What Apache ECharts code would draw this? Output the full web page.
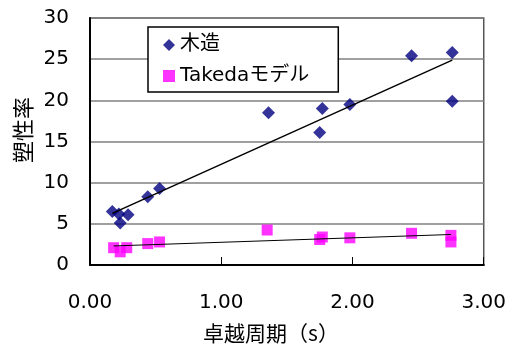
<!DOCTYPE html>
<html>
<head>
<meta charset="utf-8">
<script src="https://cdn.jsdelivr.net/npm/echarts@6/dist/echarts.min.js"></script>
<style>
  html, body { margin: 0; padding: 0; background: #fff; }
  #chart { width: 509px; height: 344px; }
</style>
</head>
<body>
<div id="chart"></div>
<script>
// 木造: natural period (s) vs ductility ratio
const woodPeriod = [0.17, 0.22, 0.23, 0.29, 0.44, 0.53, 1.36, 1.75, 1.77, 1.98, 2.45, 2.76, 2.76];
const woodRatio  = [6.5, 6.2, 5.1, 6.1, 8.3, 9.3, 18.5, 16.1, 19.0, 19.5, 25.4, 25.8, 19.9];

// Takedaモデル: natural period (s) vs ductility ratio
const takedaPeriod = [0.18, 0.23, 0.28, 0.44, 0.53, 1.35, 1.75, 1.77, 1.98, 2.45, 2.75, 2.75];
const takedaRatio  = [2.1, 1.6, 2.1, 2.6, 2.8, 4.25, 3.1, 3.4, 3.3, 3.85, 3.6, 2.8];

const seriesNames = ['木造', 'Takedaモデル'];
const xTicks = [0, 1, 2, 3];
const yMin = 0, yMax = 30, yStep = 5;

const FONT = '"DejaVu Sans", "Noto Sans CJK JP", sans-serif';
const CJK = '"Noto Sans CJK JP", sans-serif';

// least-squares linear trend over the span of the data
function trend(xs, ys) {
  const n = xs.length;
  const mx = xs.reduce((a, b) => a + b, 0) / n;
  const my = ys.reduce((a, b) => a + b, 0) / n;
  let sxy = 0, sxx = 0;
  for (let i = 0; i < n; i++) {
    sxy += (xs[i] - mx) * (ys[i] - my);
    sxx += (xs[i] - mx) * (xs[i] - mx);
  }
  const k = sxy / sxx, b = my - k * mx;
  const x0 = Math.min(...xs), x1 = Math.max(...xs);
  return [[x0, k * x0 + b], [x1, k * x1 + b]];
}

const pairs = (xs, ys) => xs.map((x, i) => [x, ys[i]]);

const chart = echarts.init(document.getElementById('chart'), null, { renderer: 'canvas' });
chart.setOption({
  animation: false,
  backgroundColor: '#fff',
  grid: {
    left: 90, right: 24, top: 18, bottom: 79,
    show: true, borderColor: '#555', borderWidth: 1.5, backgroundColor: 'transparent'
  },
  legend: {
    data: [
      { name: seriesNames[0], icon: 'diamond' },
      { name: seriesNames[1], icon: 'rect' }
    ],
    orient: 'vertical',
    left: 148, top: 27,
    itemWidth: 12, itemHeight: 12,
    itemGap: 11,
    padding: [8, 29, 6, 15],
    borderColor: '#000', borderWidth: 1.5,
    backgroundColor: '#fff',
    textStyle: { fontFamily: FONT, fontSize: 20, color: '#000' }
  },
  xAxis: {
    type: 'value',
    min: xTicks[0], max: xTicks[xTicks.length - 1], interval: 1,
    axisLine: { show: true, onZero: false, lineStyle: { color: '#000', width: 2 } },
    axisTick: { show: true, inside: true, length: 8, lineStyle: { color: '#000', width: 1 } },
    splitLine: { show: false },
    axisLabel: {
      margin: 28, fontFamily: FONT, fontSize: 20, color: '#000',
      formatter: v => v.toFixed(2)
    }
  },
  yAxis: {
    type: 'value',
    min: yMin, max: yMax, interval: yStep,
    axisLine: { show: true, lineStyle: { color: '#000', width: 2 } },
    axisTick: { show: false },
    splitLine: { show: true, lineStyle: { color: '#808080', width: 1.5 } },
    axisLabel: { margin: 21, fontFamily: FONT, fontSize: 20, color: '#000' }
  },
  graphic: [
    {
      type: 'text', x: 23, y: 130, rotation: Math.PI / 2,
      style: {
        text: '塑性率', font: '22px ' + CJK, fill: '#000',
        textAlign: 'center', textVerticalAlign: 'middle'
      }
    },
    {
      type: 'text', x: 271, y: 333,
      style: {
        text: '卓越周期（s）', font: '21px ' + CJK, fill: '#000',
        textAlign: 'center', textVerticalAlign: 'middle'
      }
    }
  ],
  series: [
    {
      name: seriesNames[0], type: 'scatter', symbol: 'diamond', symbolSize: 13,
      itemStyle: { color: '#000080' }, data: pairs(woodPeriod, woodRatio), z: 3
    },
    {
      name: seriesNames[1], type: 'scatter', symbol: 'rect', symbolSize: 11,
      itemStyle: { color: '#ff00ff' }, data: pairs(takedaPeriod, takedaRatio), z: 3
    },
    {
      name: 'trend-wood', type: 'line', showSymbol: false, silent: true,
      lineStyle: { color: '#000', width: 1.5 }, data: trend(woodPeriod, woodRatio), z: 4
    },
    {
      name: 'trend-takeda', type: 'line', showSymbol: false, silent: true,
      lineStyle: { color: '#000', width: 1 }, data: trend(takedaPeriod, takedaRatio), z: 4
    }
  ]
});
</script>
</body>
</html>
